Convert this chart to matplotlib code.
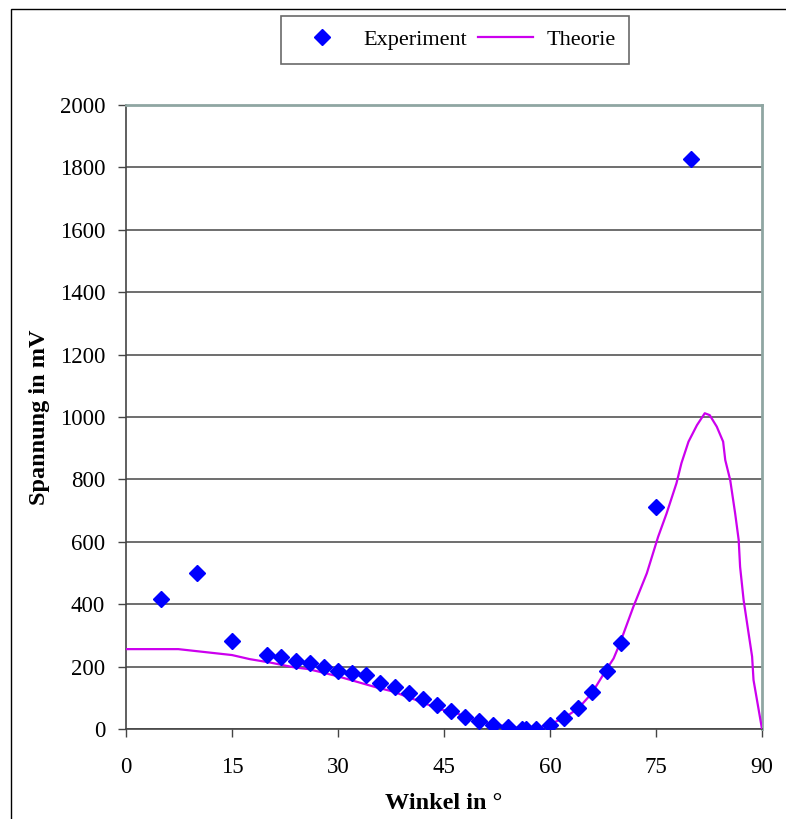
import matplotlib
matplotlib.use("Agg")
import matplotlib.pyplot as plt
from matplotlib.patches import Rectangle
from matplotlib.lines import Line2D

# Experimental data
exp_angle = [5, 10, 15, 20, 22, 24, 26, 28, 30, 32, 34, 36, 38, 40, 42, 44,
             46, 48, 50, 52, 54, 56, 56.6, 58, 60, 62, 64, 66, 68, 70, 75, 80]
exp_volt = [418, 500, 282, 238, 232, 218, 212, 199, 187, 180, 173, 148, 136, 116, 96, 77,
            58, 40, 26, 12, 7, 1, 1, 1, 13, 34, 66, 117, 187, 277, 711, 1827]

# Theoretical curve
th_angle = [0, 7.4, 15, 17.5, 20.4, 23.7, 25.8, 29.8, 35.5, 37.8, 39.7, 42.1, 44.4,
            46.1, 50.1, 54.1, 56.3, 58.1, 60.0, 61.9, 64.0, 65.9, 67.8, 69.0, 69.9,
            71.8, 73.7, 75.3, 76.5, 77.9, 78.6, 79.6, 80.8, 81.9, 82.6, 83.6, 84.5,
            84.8, 85.5, 86.2, 86.7, 86.9, 87.4, 88.1, 88.6, 88.8, 90.0]
th_volt = [256, 256, 237, 224, 213, 198, 192, 170, 133, 120, 104, 84, 63,
           56, 23, 7, 1, 2, 16, 34, 66, 114, 184, 226, 275,
           392, 499, 616, 691, 788, 852, 921, 974, 1012, 1006, 969, 921,
           862, 798, 691, 606, 520, 413, 307, 232, 157, 0]

x_ticks = [0, 15, 30, 45, 60, 75, 90]
y_ticks = [0, 200, 400, 600, 800, 1000, 1200, 1400, 1600, 1800, 2000]

plt.rcParams['font.family'] = ['Liberation Serif', 'DejaVu Serif']

fig = plt.figure(figsize=(7.86, 8.19), dpi=100)
fig.patches.append(Rectangle((11/786, -0.2), 1.5, 1.2 + (819-9)/819 - 1.0,
                             transform=fig.transFigure, fill=False,
                             edgecolor='black', linewidth=1.0))

ax = fig.add_axes([126/786, (819-729)/819, (762-126)/786, (729-105)/819])

ax.plot(th_angle, th_volt, color='#CC00EE', linewidth=1.6, zorder=3)
ax.plot(exp_angle, exp_volt, linestyle='none', marker='D', markersize=8,
        color='#0000FF', markeredgecolor='#0000FF', zorder=4)

ax.set_xlim(0, 90)
ax.set_ylim(0, 2000)
ax.set_xticks(x_ticks)
ax.set_yticks(y_ticks)
ax.tick_params(axis='both', labelsize=16.5, direction='out', length=6, width=1,
               color='#444444')
ax.tick_params(axis='x', pad=14)
ax.tick_params(axis='y', pad=9)
ax.yaxis.grid(True, color='#555555', linewidth=1.2)
ax.set_axisbelow(True)

for s in ['left', 'bottom']:
    ax.spines[s].set_color('#444444')
    ax.spines[s].set_linewidth(1.2)
for s in ['top', 'right']:
    ax.spines[s].set_color('#8FA6A2')
    ax.spines[s].set_linewidth(2)

ax.set_xlabel('Winkel in °', fontsize=17.5, fontweight='bold', labelpad=11)
ax.set_ylabel('Spannung in mV', fontsize=17.5, fontweight='bold', labelpad=7)

handles = [Line2D([], [], linestyle='none', marker='D', markersize=8, color='#0000FF'),
           Line2D([], [], color='#CC00EE', linewidth=1.6)]
leg = fig.legend(handles, ['Experiment', 'Theorie'], loc='center',
                 bbox_to_anchor=(455/786, 1 - 40/819), ncol=2, fontsize=16,
                 frameon=True, fancybox=False, edgecolor='#444444',
                 handlelength=2.5, columnspacing=0.5, borderpad=0.6,
                 handletextpad=0.6)
leg.get_frame().set_linewidth(1.2)

fig.savefig('out.png', dpi=100)
